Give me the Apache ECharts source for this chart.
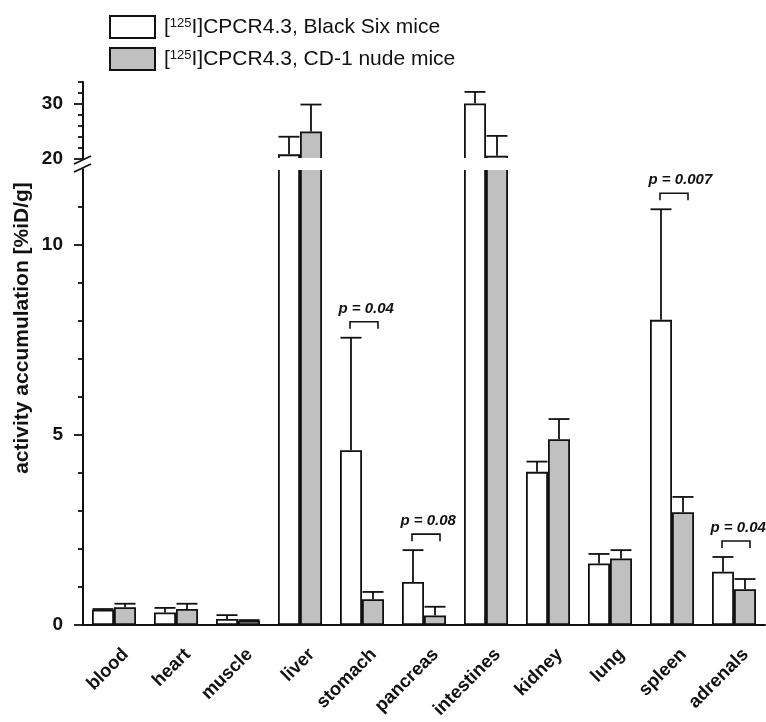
<!DOCTYPE html>
<html><head><meta charset="utf-8">
<script src="https://cdn.jsdelivr.net/npm/echarts@6/dist/echarts.min.js"></script>
<style>html,body{margin:0;padding:0;background:#fff}#c{width:766px;height:722px}</style>
</head><body><div id="c"></div>
<script>
// ---- data ----
const categories = ['blood','heart','muscle','liver','stomach','pancreas','intestines','kidney','lung','spleen','adrenals'];
const blackSixMean = [0.40, 0.33, 0.16, 20.85, 4.60, 1.13, 30.1, 4.03, 1.62, 8.03, 1.40];
const blackSixSD   = [0.02, 0.12, 0.10, 3.20, 2.96, 0.84, 2.10, 0.27, 0.25, 2.91, 0.39];
const cd1Mean      = [0.47, 0.42, 0.11, 25.0, 0.68, 0.25, 20.6, 4.89, 1.75, 2.97, 0.94];
const cd1SD        = [0.09, 0.14, 0.02, 4.90, 0.19, 0.23, 3.60, 0.53, 0.22, 0.40, 0.27];
const seriesNames  = ['[125I]CPCR4.3, Black Six mice', '[125I]CPCR4.3, CD-1 nude mice'];
const lowerMajorTicks = [0, 5, 10];
const lowerMinorTicks = [1, 2, 3, 4, 6, 7, 8, 9, 11];
const upperMajorTicks = [20, 30];
const upperMinorTicks = [22, 24, 26, 28, 32, 34];
const pCategories = ['stomach', 'pancreas', 'spleen', 'adrenals'];
const pTexts = ['p = 0.04', 'p = 0.08', 'p = 0.007', 'p = 0.04'];
const yTitle = 'activity accumulation [%iD/g]';

// ---- layout / style ----
const FONT = '"Liberation Sans", Arial, Helvetica, sans-serif';
const INK = '#111';
const GREY = '#c0c0c0';
const LOWER = {min: 0, max: 12};
const UPPER = {min: 20, max: 34};
const BAR_W = 22;

const chart = echarts.init(document.getElementById('c'), null, {renderer: 'canvas'});

function errData() {
  const d = [];
  categories.forEach((c, i) => {
    d.push([i, blackSixMean[i], blackSixMean[i] + blackSixSD[i], 0]);
    d.push([i, cd1Mean[i], cd1Mean[i] + cd1SD[i], 1]);
  });
  return d;
}
function errRender(lo, hi) {
  return function (params, api) {
    const i = api.value(0), m = api.value(1), u = api.value(2), g = api.value(3);
    if (m < lo || u > hi) return;
    const p0 = api.coord([i, m]);
    const p1 = api.coord([i, u]);
    const x = p0[0] + (g === 0 ? -BAR_W / 2 : BAR_W / 2);
    const st = {stroke: INK, lineWidth: 1.8, fill: null};
    return {
      type: 'group',
      children: [
        {type: 'line', shape: {x1: x, y1: p0[1], x2: x, y2: p1[1]}, style: st},
        {type: 'line', shape: {x1: x - 10.5, y1: p1[1], x2: x + 10.5, y2: p1[1]}, style: st}
      ]
    };
  };
}
function pData() {
  return pCategories.map((c, k) => {
    const i = categories.indexOf(c);
    return [i, Math.max(blackSixMean[i] + blackSixSD[i], cd1Mean[i] + cd1SD[i]), k];
  });
}
function pRender(params, api) {
  const i = api.value(0), lvl = api.value(1), k = api.value(2);
  const p = api.coord([i, lvl]);
  const cx = p[0], y = p[1];
  const l = cx - 12, r = cx + 16, yb = y - 9, yt = y - 16;
  return {
    type: 'group',
    children: [
      {type: 'polyline', shape: {points: [[l, yb], [l, yt], [r, yt], [r, yb]]},
       style: {stroke: INK, lineWidth: 1.6, fill: null}},
      {type: 'text', x: cx - 23.5, y: y - 29,
       style: {text: pTexts[k], fill: INK, font: 'italic bold 15px ' + FONT, align: 'left', verticalAlign: 'middle'}}
    ]
  };
}

const axisLineStyle = {color: INK, width: 2};
function yAxisPair(grid, range, minors, majors) {
  return [
    {type: 'value', gridIndex: grid, position: 'left', offset: 0, min: range.min, max: range.max,
     axisLine: {show: true, lineStyle: axisLineStyle},
     axisTick: {show: true, customValues: minors, length: 5, lineStyle: {color: INK, width: 1.8}},
     axisLabel: {show: false}, splitLine: {show: false}},
    {type: 'value', gridIndex: grid, position: 'left', offset: 0, min: range.min, max: range.max,
     axisLine: {show: false},
     axisTick: {show: true, customValues: majors, length: 9, lineStyle: {color: INK, width: 1.8}},
     axisLabel: {show: true, customValues: majors, margin: 20, color: INK, fontSize: 19, fontWeight: 'bold', fontFamily: FONT},
     splitLine: {show: false}}
  ];
}

const barStyleA = {color: '#ffffff', borderColor: INK, borderWidth: 1.8};
const barStyleB = {color: GREY, borderColor: INK, borderWidth: 1.8};

const option = {
  animation: false,
  backgroundColor: '#fff',
  textStyle: {fontFamily: FONT},
  grid: [
    {left: 83, top: 169, width: 682, height: 456},
    {left: 83, top: 82, width: 682, height: 77}
  ],
  legend: {
    orient: 'vertical', left: 104, top: 10, itemWidth: 45, itemHeight: 22, itemGap: 8,
    icon: 'rect', data: seriesNames,
    itemStyle: {borderColor: INK, borderWidth: 2},
    textStyle: {fontSize: 21, color: INK, fontFamily: FONT, padding: [0, 0, 0, 4],
      rich: {s: {fontSize: 13, verticalAlign: 'top', lineHeight: 12, fontFamily: FONT, color: INK}}},
    formatter: n => n.replace('125', '{s|125}')
  },
  xAxis: [
    {type: 'category', gridIndex: 0, data: categories,
     axisLine: {show: true, lineStyle: axisLineStyle}, axisTick: {show: false},
     axisLabel: {rotate: 45, margin: 15, padding: [7, 0, 0, 0], verticalAlign: 'top', color: INK,
       fontSize: 18.5, fontWeight: 'bold', fontFamily: FONT, interval: 0}},
    {type: 'category', gridIndex: 1, data: categories, show: false}
  ],
  yAxis: [].concat(
    yAxisPair(0, LOWER, lowerMinorTicks, lowerMajorTicks),
    yAxisPair(1, UPPER, upperMinorTicks, upperMajorTicks)
  ),
  series: [
    {type: 'bar', name: seriesNames[0], xAxisIndex: 0, yAxisIndex: 0, data: blackSixMean,
     barWidth: BAR_W, barGap: '0%', itemStyle: barStyleA, clip: true},
    {type: 'bar', name: seriesNames[1], xAxisIndex: 0, yAxisIndex: 0, data: cd1Mean,
     barWidth: BAR_W, barGap: '0%', itemStyle: barStyleB, clip: true},
    {type: 'bar', name: seriesNames[0], xAxisIndex: 1, yAxisIndex: 2,
     data: blackSixMean.map(v => v >= UPPER.min ? v : '-'),
     barWidth: BAR_W, barGap: '0%', itemStyle: barStyleA, clip: true},
    {type: 'bar', name: seriesNames[1], xAxisIndex: 1, yAxisIndex: 2,
     data: cd1Mean.map(v => v >= UPPER.min ? v : '-'),
     barWidth: BAR_W, barGap: '0%', itemStyle: barStyleB, clip: true},
    {type: 'custom', xAxisIndex: 0, yAxisIndex: 0, data: errData(), renderItem: errRender(-Infinity, LOWER.max),
     encode: {x: 0, y: 1}, z: 5, silent: true},
    {type: 'custom', xAxisIndex: 1, yAxisIndex: 2, data: errData(), renderItem: errRender(UPPER.min, Infinity),
     encode: {x: 0, y: 1}, z: 5, silent: true},
    {type: 'custom', xAxisIndex: 0, yAxisIndex: 0, data: pData(), renderItem: pRender,
     encode: {x: 0, y: 1}, z: 5, silent: true}
  ],
  graphic: [
    {type: 'rect', shape: {x: 85, y: 158, width: 681, height: 12}, style: {fill: '#fff'}, z: 100, silent: true},
    {type: 'line', shape: {x1: 74, y1: 164, x2: 91, y2: 156}, style: {stroke: INK, lineWidth: 1.8}, z: 101, silent: true},
    {type: 'line', shape: {x1: 74, y1: 172, x2: 91, y2: 164}, style: {stroke: INK, lineWidth: 1.8}, z: 101, silent: true},
    {type: 'text', x: 22, y: 328, rotation: Math.PI / 2, z: 101,
     style: {text: yTitle, font: 'bold 21px ' + FONT, fill: INK, align: 'center', verticalAlign: 'middle'}}
  ]
};
chart.setOption(option);
</script>
</body></html>
